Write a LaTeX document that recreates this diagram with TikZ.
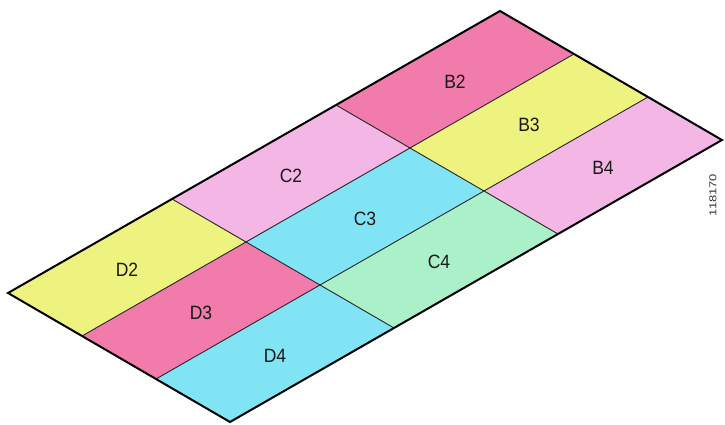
\documentclass[tikz,border=0pt]{standalone}
\usepackage{fontspec}
\setmainfont{Liberation Sans}
\usetikzlibrary{calc}
\definecolor{cmag}{RGB}{241,124,172}
\definecolor{cyel}{RGB}{238,242,126}
\definecolor{cpink}{RGB}{244,182,228}
\definecolor{ccyan}{RGB}{128,228,245}
\definecolor{cmint}{RGB}{170,240,200}
\begin{document}
\begin{tikzpicture}[x=1pt,y=-1pt,
  cell/.style={draw=black!85,line width=0.9pt},
  outer/.style={draw=black,line width=2pt,line join=miter},
  lbl/.style={font=\fontsize{17.5}{17.5}\selectfont,text=black!90,yscale=1.1}]
\useasboundingbox (0,0) rectangle (725,425);
\foreach \i in {0,...,3}
  \foreach \j in {0,...,3}
    \coordinate (p\i\j) at ({8+\i*164+\j*74},{293-\i*94+\j*43});
% cells: columns D (i=0), C (i=1), B (i=2); rows 2 (j=0), 3 (j=1), 4 (j=2)
\foreach \i/\j/\c/\t in {0/0/cyel/D2, 0/1/cmag/D3, 0/2/ccyan/D4,
                         1/0/cpink/C2, 1/1/ccyan/C3, 1/2/cmint/C4,
                         2/0/cmag/B2, 2/1/cyel/B3, 2/2/cpink/B4}{
  \pgfmathtruncatemacro{\ii}{\i+1}
  \pgfmathtruncatemacro{\jj}{\j+1}
  \fill[\c] (p\i\j) -- (p\ii\j) -- (p\ii\jj) -- (p\i\jj) -- cycle;
  \node[lbl] (n\t) at ($ (p\i\j)!0.5!(p\ii\jj) + (0,2) $) {\t};
}
\foreach \k in {1,2}{
  \draw[cell] (p\k0) -- (p\k3);
  \draw[cell] (p0\k) -- (p3\k);
}
\draw[outer] (p00) -- (p30) -- (p33) -- (p03) -- cycle;
\node[rotate=90,xscale=1.3,font=\fontsize{10}{10}\selectfont,text=black!80] (tag) at (713,195) {118170};
\end{tikzpicture}
\end{document}
